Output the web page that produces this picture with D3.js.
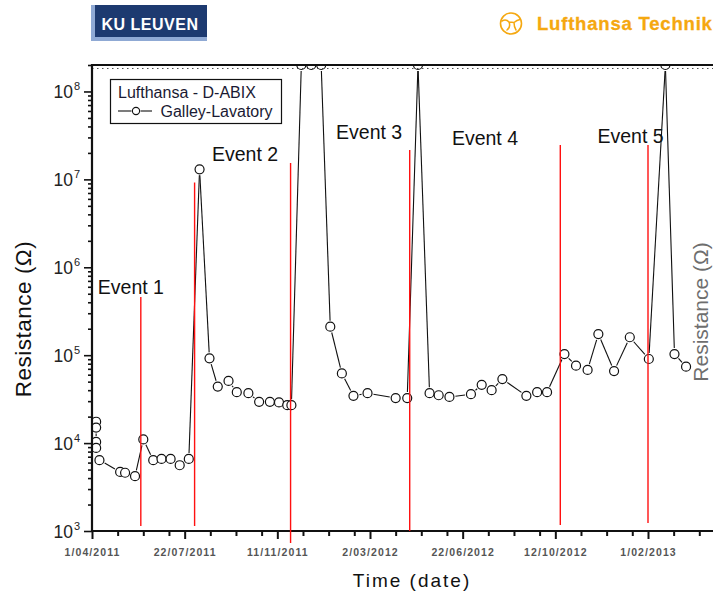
<!DOCTYPE html>
<html><head><meta charset="utf-8">
<script src="https://cdn.jsdelivr.net/npm/d3@7"></script>
<style>body{margin:0;background:#fff;} svg{display:block;font-family:"Liberation Sans",Arial,sans-serif;}</style>
</head><body><svg id="c" width="713" height="593"></svg>
<script>
// ---------- data ----------
const sampleDates = [
 "2011-04-06","2011-04-06","2011-04-06","2011-04-06","2011-04-10","2011-05-05","2011-05-11","2011-05-23",
 "2011-06-02","2011-06-14","2011-06-24","2011-07-05","2011-07-16","2011-07-27","2011-08-09","2011-08-21",
 "2011-08-31","2011-09-13","2011-09-23","2011-10-07","2011-10-20","2011-11-02","2011-11-13","2011-11-23",
 "2011-11-28","2011-12-10","2011-12-22","2012-01-03","2012-01-14","2012-01-28","2012-02-11","2012-02-28",
 "2012-04-02","2012-04-16","2012-04-29","2012-05-13","2012-05-24","2012-06-06","2012-07-02","2012-07-15",
 "2012-07-27","2012-08-09","2012-09-07","2012-09-20","2012-10-02","2012-10-23","2012-11-06","2012-11-20",
 "2012-12-03","2012-12-22","2013-01-10","2013-02-02","2013-02-22","2013-03-05","2013-03-19"];
const resistance = [
 17500,15000,10300,8800,6400,4700,4600,4200,
 11000,6400,6600,6600,5600,6600,1.3e7,92000,
 44000,51000,38000,37000,29500,29500,29000,27000,
 27000,2e8,2e8,2e8,211000,62000,34500,37000,
 32500,32500,2e8,37000,35000,33500,36000,46000,
 40000,53500,34500,38000,38000,103000,76000,68000,
 174000,66000,160000,90500,2e8,103000,74000];

const eventDates   = ["2011-05-30","2011-08-03","2011-11-27","2012-04-19","2012-10-18","2013-02-01"];
const eventTop     = [4.6e5, 9.2e6, 1.54e7, 2.16e7, 2.46e7, 2.46e7];
const eventBottom  = [1140, 1140, 730, 1000, 1170, 1230];
const eventLabels  = ["Event 1","Event 2","Event 3","Event 4","Event 5"];
const labelDates   = ["2011-04-08","2011-08-24","2012-01-21","2012-06-09","2012-12-02"];
const labelValues  = [4.97e5, 1.63e7, 2.86e7, 2.46e7, 2.62e7];

const majorTickDates  = ["2011-04-01","2011-07-22","2011-11-11","2012-03-02","2012-06-22","2012-10-12","2013-02-01"];
const majorTickLabels = ["1/04/2011","22/07/2011","11/11/2011","2/03/2012","22/06/2012","12/10/2012","1/02/2013"];
const yDecades      = [1e3,1e4,1e5,1e6,1e7,1e8];
const yTickExponent = ["3","4","5","6","7","8"];
const legendTitle = "Lufthansa - D-ABIX";
const seriesName  = "Galley-Lavatory";
const yTitle = "Resistance (\u03A9)";
const xTitle = "Time (date)";

// ---------- layout ----------
const W = 713, H = 593;
const L = 92, R = 713, T = 65, B = 531;
const parse = d3.utcParse("%Y-%m-%d");
const svg = d3.select("#c");

const x = d3.scaleUtc()
  .domain([parse(majorTickDates[0]), parse(majorTickDates[6])])
  .range([L, 648]);
const y = d3.scaleLog().domain([1e3, 2e8]).range([B, T]);

// ---------- logos ----------
const ku = svg.append("g");
ku.append("rect").attr("x",91).attr("y",5).attr("width",116).attr("height",36).attr("fill","#8fa9d4");
ku.append("rect").attr("x",95).attr("y",5).attr("width",112).attr("height",32).attr("fill","#1d3a70");
ku.append("text").attr("x",150).attr("y",30).attr("text-anchor","middle")
  .attr("fill","#fff").attr("font-weight","bold").attr("font-size",16).attr("letter-spacing",0.5)
  .text("KU LEUVEN");

const lh = svg.append("g");
const lhc = "#f5a810";
lh.append("circle").attr("cx",511).attr("cy",23.5).attr("r",10.5).attr("fill","none").attr("stroke",lhc).attr("stroke-width",1.6);
lh.append("path").attr("d","M502,21 Q506,18.5 509,22 L514,22.5 Q517,20 520,19.5 M509,22 Q511,27 507,30 M514,22.5 Q514,27 516,30")
  .attr("fill","none").attr("stroke",lhc).attr("stroke-width",1.5).attr("stroke-linecap","round");
lh.append("text").attr("x",537).attr("y",30).attr("fill",lhc).attr("font-weight","bold")
  .attr("font-size",18.5).attr("letter-spacing",0.8).attr("stroke",lhc).attr("stroke-width",0.3).text("Lufthansa Technik");

// ---------- clip ----------
svg.append("defs").append("clipPath").attr("id","plot")
  .append("rect").attr("x",L).attr("y",T).attr("width",R-L).attr("height",B-T);

// ---------- data line with gaps ----------
const pts = sampleDates.map((d,i)=>[x(parse(d)), y(resistance[i])]);
const r = 4.5, gap = 1.5;
const segs = [];
for (let i=0;i<pts.length-1;i++){
  const [x0,y0]=pts[i],[x1,y1]=pts[i+1];
  const dx=x1-x0, dy=y1-y0, dist=Math.hypot(dx,dy);
  const s=r+gap;
  if (dist>2*s+1){
    const ux=dx/dist, uy=dy/dist;
    segs.push([x0+ux*s,y0+uy*s,x1-ux*s,y1-uy*s]);
  }
}
const pg = svg.append("g").attr("clip-path","url(#plot)");
pg.selectAll("line.seg").data(segs).join("line").attr("class","seg")
  .attr("x1",d=>d[0]).attr("y1",d=>d[1]).attr("x2",d=>d[2]).attr("y2",d=>d[3])
  .attr("stroke","#111").attr("stroke-width",1.1);
pg.selectAll("circle.pt").data(pts).join("circle").attr("class","pt")
  .attr("cx",d=>d[0]).attr("cy",d=>d[1]).attr("r",r)
  .attr("fill","#fff").attr("stroke","#111").attr("stroke-width",1.2);

// ---------- frame ----------
svg.append("line").attr("x1",L).attr("x2",R).attr("y1",T).attr("y2",T).attr("stroke","#111").attr("stroke-width",2);
svg.append("line").attr("x1",L).attr("x2",R).attr("y1",T+3.5).attr("y2",T+3.5)
  .attr("stroke","#555").attr("stroke-width",1).attr("stroke-dasharray","1.5,3.5");

// ---------- x axis ----------
const majors = majorTickDates.map(parse);
const minors = [];
majors.forEach(m=>{ for(let k=1;k<=3;k++) minors.push(d3.utcDay.offset(m,31*k)); });
const xAxisMinor = d3.axisBottom(x).tickValues(minors.filter(d=>x(d)<=R)).tickSize(5).tickFormat("");
const xAxisMajor = d3.axisBottom(x).tickValues(majors).tickSize(8).tickFormat((d,i)=>majorTickLabels[i]);
const gxm = svg.append("g").attr("transform",`translate(0,${B})`).call(xAxisMinor);
const gx = svg.append("g").attr("transform",`translate(0,${B})`).call(xAxisMajor);
[gxm,gx].forEach(g=>{ g.select(".domain").remove(); g.selectAll(".tick line").attr("stroke","#111").attr("stroke-width",2); });
gx.selectAll(".tick text").attr("y",25).attr("dy",0).attr("font-size",10.5).attr("letter-spacing",1.1)
  .attr("font-weight","bold").attr("fill","#555").attr("font-family","Liberation Sans, Arial, sans-serif");
svg.append("line").attr("x1",L-1).attr("x2",R).attr("y1",B).attr("y2",B).attr("stroke","#111").attr("stroke-width",2.2);

// ---------- y axis ----------
const yMinor = [];
yDecades.forEach(dd=>{ for(let k=2;k<=9;k++){ const v=dd*k; if(v<=2e8) yMinor.push(v);} });
const gym = svg.append("g").attr("transform",`translate(${L},0)`).call(d3.axisLeft(y).tickValues(yMinor).tickSize(4).tickFormat(""));
const gy = svg.append("g").attr("transform",`translate(${L},0)`).call(d3.axisLeft(y).tickValues(yDecades).tickSize(8).tickFormat(""));
[gym,gy].forEach(g=>{ g.select(".domain").remove(); g.selectAll(".tick line").attr("stroke","#111").attr("stroke-width",1.6); });
svg.append("line").attr("x1",L).attr("x2",L).attr("y1",T-1).attr("y2",B+1).attr("stroke","#111").attr("stroke-width",2.2);
const ylab = svg.append("g").selectAll("text").data(yDecades).join("text")
  .attr("x",80).attr("y",d=>y(d)+7).attr("text-anchor","end").attr("font-size",17.5).attr("fill","#222");
ylab.append("tspan").text("10");
ylab.append("tspan").attr("dy",-8).attr("dx",1).attr("font-size",11).text((d,i)=>yTickExponent[i]);

// ---------- axis titles ----------
svg.append("text").attr("transform",`translate(31,319) rotate(-90)`).attr("text-anchor","middle")
  .attr("font-size",22.5).attr("letter-spacing",0.5).attr("fill","#111").text(yTitle);
svg.append("text").attr("transform",`translate(708,312) rotate(-90)`).attr("text-anchor","middle")
  .attr("font-size",21).attr("fill","#6e6e6e").text(yTitle);
svg.append("text").attr("x",412).attr("y",587).attr("text-anchor","middle")
  .attr("font-size",19).attr("letter-spacing",2).attr("fill","#111").text(xTitle);

// ---------- events ----------
svg.append("g").selectAll("line").data(eventDates).join("line")
  .attr("x1",d=>x(parse(d))).attr("x2",d=>x(parse(d)))
  .attr("y1",(d,i)=>y(eventTop[i])).attr("y2",(d,i)=>y(eventBottom[i]))
  .attr("stroke","#ff1010").attr("stroke-width",1.4);
svg.append("g").selectAll("text").data(eventLabels).join("text")
  .attr("x",(d,i)=>x(parse(labelDates[i]))).attr("y",(d,i)=>y(labelValues[i]))
  .attr("font-size",19.5).attr("fill","#111").text(d=>d);

// ---------- legend ----------
const lg = svg.append("g");
lg.append("rect").attr("x",110.5).attr("y",79.5).attr("width",171).attr("height",44)
  .attr("fill","#fff").attr("stroke","#111").attr("stroke-width",1.2);
lg.append("text").attr("x",118).attr("y",98).attr("font-size",16).attr("fill","#1a1a33").text(legendTitle);
lg.append("line").attr("x1",118).attr("x2",131.5).attr("y1",111).attr("y2",111).attr("stroke","#111").attr("stroke-width",1.1);
lg.append("line").attr("x1",140.5).attr("x2",152).attr("y1",111).attr("y2",111).attr("stroke","#111").attr("stroke-width",1.1);
lg.append("circle").attr("cx",136).attr("cy",111).attr("r",3.6).attr("fill","#fff").attr("stroke","#111").attr("stroke-width",1.1);
lg.append("text").attr("x",160.5).attr("y",117).attr("font-size",16).attr("fill","#1a1a33").text(seriesName);
</script></body></html>
